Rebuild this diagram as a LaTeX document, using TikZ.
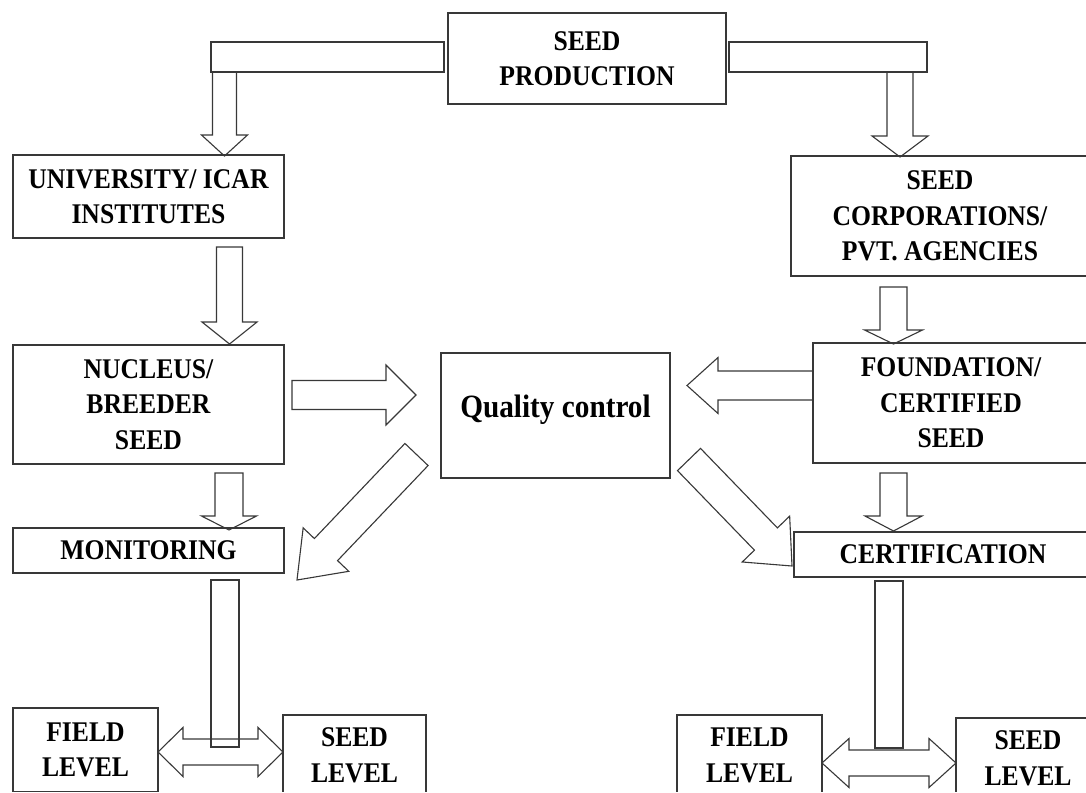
\documentclass[tikz,border=0pt]{standalone}
\usepackage{fontspec}
\setmainfont{Liberation Serif}[FakeStretch=0.9]
\usetikzlibrary{calc}

\tikzset{
  ink/.style={draw=black!78, line width=1.1pt, line join=miter},
  box/.style={ink, fill=white, rectangle, inner sep=0pt, align=center,
              font=\bfseries\fontsize{28.5}{35.5}\selectfont},
  lbl/.style={inner sep=0pt, font=\bfseries\fontsize{32.5}{36}\selectfont},
}

% Hollow block arrow: #1 tail centre, #2 tip, #3 shaft half width,
% #4 head half width, #5 head length
\newcommand\blockarrow[5]{%
  \coordinate (ba-h) at ($(#2)!#5!(#1)$);
  \draw[ink] ($(#1)!#3!90:(#2)$) -- ($(ba-h)!#3!90:(#2)$) -- ($(ba-h)!#4!90:(#2)$)
    -- (#2) -- ($(ba-h)!#4!-90:(#2)$) -- ($(ba-h)!#3!-90:(#2)$)
    -- ($(#1)!#3!-90:(#2)$) -- cycle;
}
% Hollow double-headed arrow: #1 left tip, #2 right tip, #3 shaft half width,
% #4 head half width, #5 head length
\newcommand\dblarrow[5]{%
  \coordinate (da-l) at ($(#1)!#5!(#2)$);
  \coordinate (da-r) at ($(#2)!#5!(#1)$);
  \draw[ink] (#1) -- ($(da-l)!#4!90:(#2)$) -- ($(da-l)!#3!90:(#2)$)
    -- ($(da-r)!#3!-90:(#1)$) -- ($(da-r)!#4!-90:(#1)$) -- (#2)
    -- ($(da-r)!#4!90:(#1)$) -- ($(da-r)!#3!90:(#1)$)
    -- ($(da-l)!#3!-90:(#2)$) -- ($(da-l)!#4!-90:(#2)$) -- cycle;
}

\begin{document}
\begin{tikzpicture}[x=1pt, y=-1pt]
\useasboundingbox (0,0) rectangle (1086,792);
\fill[white] (0,0) rectangle (1086,792);
\clip (0,0) rectangle (1086,791);

% ---- boxes ----
\node[box, minimum width=278, minimum height=91] (prod) at (587,58.5) {SEED\\PRODUCTION};
\node[box, minimum width=271, minimum height=83] (univ) at (148.5,196.5) {UNIVERSITY/ ICAR\\INSTITUTES};
\node[box, minimum width=298, minimum height=120] (corp) at (940,216) {SEED\\CORPORATIONS/\\PVT. AGENCIES};
\node[box, minimum width=271, minimum height=119] (nuc) at (148.5,404.5) {NUCLEUS/\\BREEDER\\SEED};
\node[box, minimum width=229, minimum height=125] (qc) at (555.5,415.5) {};
\node[lbl, anchor=base] (qct) at (555.5,417) {Quality control};
\node[box, minimum width=276, minimum height=120] (found) at (951,403) {FOUNDATION/\\CERTIFIED\\SEED};
\node[box, minimum width=271, minimum height=45] (mon) at (148.5,550.5) {MONITORING};
\node[box, minimum width=298, minimum height=45] (cert) at (943,554.5) {CERTIFICATION};
\node[box, minimum width=145, minimum height=84] (fieldL) at (85.5,750) {FIELD\\LEVEL};
\node[box, minimum width=143, minimum height=81] (seedL) at (354.5,755.5) {SEED\\LEVEL};
\node[box, minimum width=145, minimum height=81] (fieldR) at (749.5,755.5) {FIELD\\LEVEL};
\node[box, minimum width=144, minimum height=81] (seedR) at (1028,758.5) {SEED\\LEVEL};

% ---- branching bars from seed production ----
\draw[ink] (211,42) rectangle (444,72);
\draw[ink] (729,42) rectangle (927,72);
\blockarrow{224.5,72}{224.5,156}{12pt}{23pt}{21pt}
\blockarrow{900,72}{900,157}{13pt}{28pt}{21pt}

% ---- vertical flow arrows ----
\blockarrow{229.5,247}{229.5,344}{13pt}{27.5pt}{22pt}
\blockarrow{229,473}{229,530}{14pt}{27.5pt}{14pt}
\blockarrow{893.5,287}{893.5,344}{13.5pt}{29pt}{14pt}
\blockarrow{893.5,473}{893.5,531}{13.5pt}{28.5pt}{15pt}

% ---- arrows into and out of quality control ----
\blockarrow{292,395}{416,395}{14.5pt}{30pt}{30pt}
\blockarrow{813,385.5}{687,385.5}{14.5pt}{28pt}{31pt}
\blockarrow{416.5,454.5}{297,580}{16pt}{31.5pt}{42pt}
\blockarrow{689,459.5}{792,566}{16pt}{33pt}{37.5pt}

% ---- field / seed level links ----
\dblarrow{158,752}{283,752}{13pt}{24.5pt}{25pt}
\dblarrow{822,763}{956,763}{13pt}{24.5pt}{27pt}
\draw[ink] (211,580) rectangle (239,747);
\draw[ink] (875,581) rectangle (903,748);
\end{tikzpicture}
\end{document}
